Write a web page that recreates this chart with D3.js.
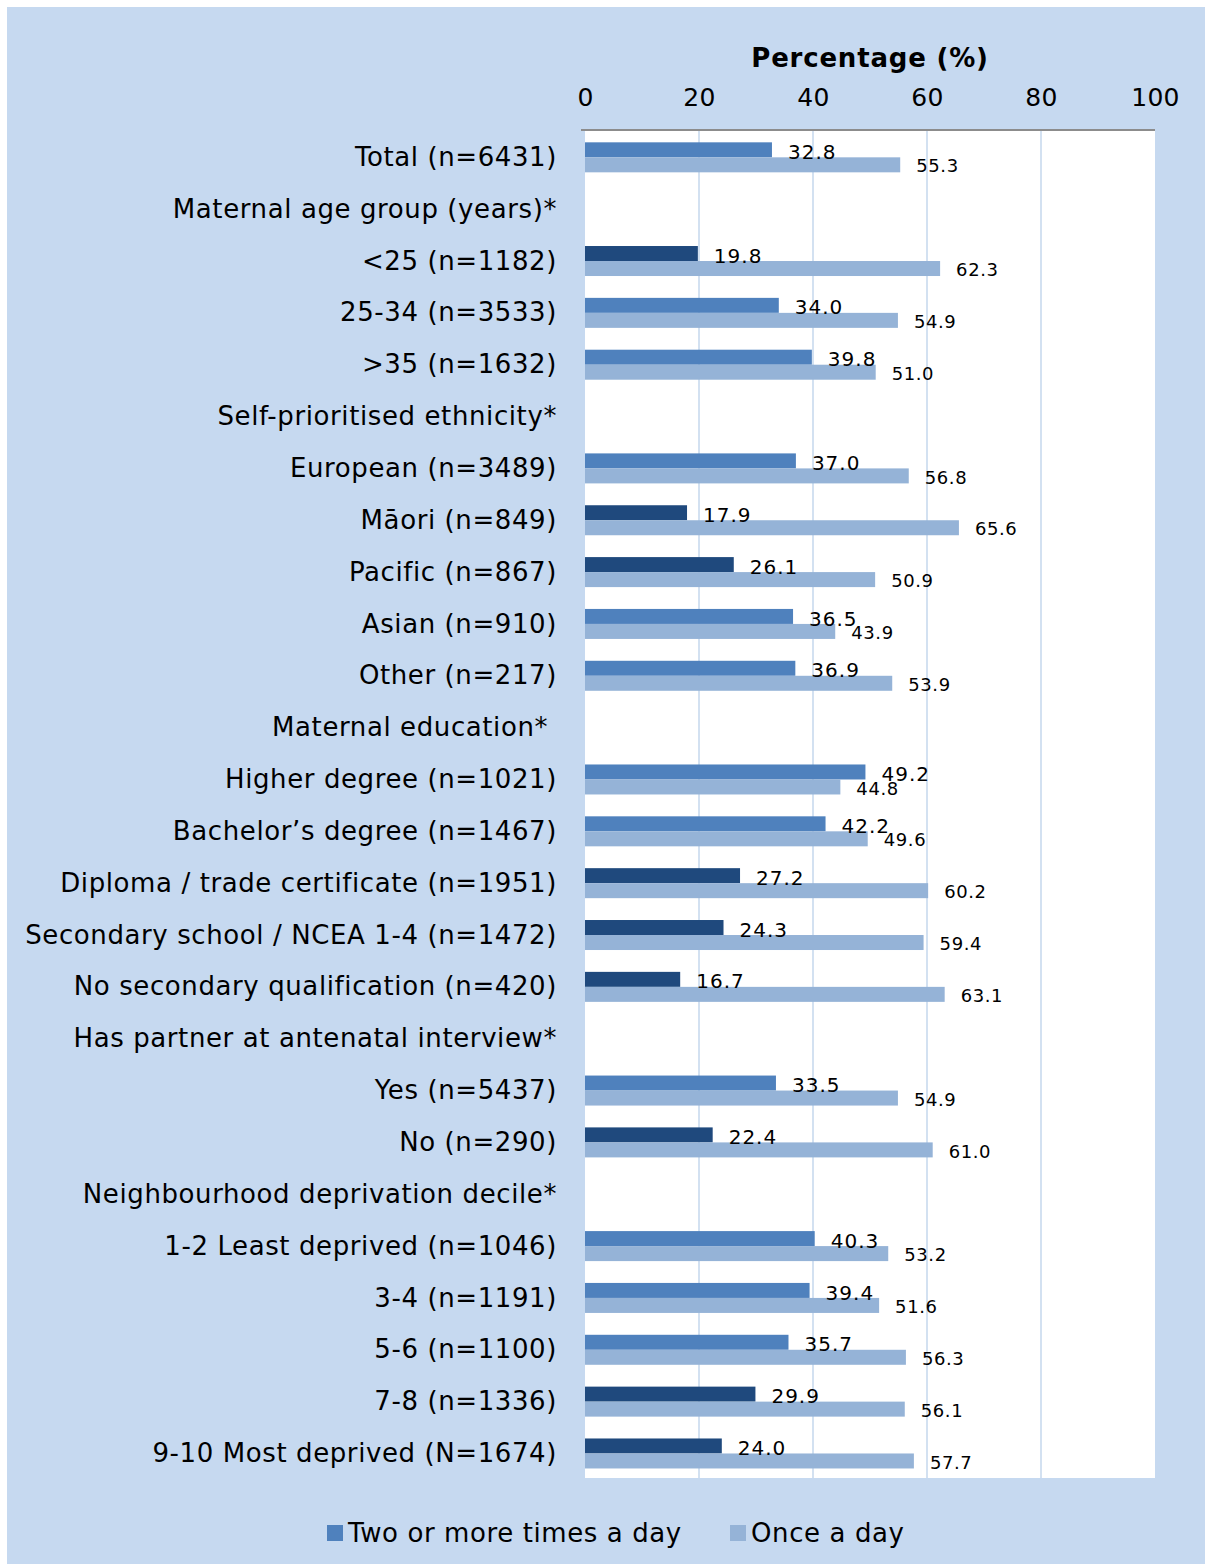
<!DOCTYPE html>
<html>
<head>
<meta charset="utf-8">
<script src="https://cdn.jsdelivr.net/npm/d3@7"></script>
<style>
    body { margin: 0; background: #ffffff; }
    svg { display: block; font-family: 'DejaVu Sans', Verdana, sans-serif; }
</style>
</head>
<body>
<section id="visualization-1"><svg></svg></section>
<script>
// row labels, top to bottom (headers have no values)
var categories = [
    'Total (n=6431)',
    'Maternal age group (years)*',
    '<25 (n=1182)',
    '25-34 (n=3533)',
    '>35 (n=1632)',
    'Self-prioritised ethnicity*',
    'European (n=3489)',
    'M\u0101ori (n=849)',
    'Pacific (n=867)',
    'Asian (n=910)',
    'Other (n=217)',
    'Maternal education*\u00a0',
    'Higher degree (n=1021)',
    'Bachelor\u2019s degree (n=1467)',
    'Diploma / trade certificate (n=1951)',
    'Secondary school / NCEA 1-4 (n=1472)',
    'No secondary qualification (n=420)',
    'Has partner at antenatal interview*',
    'Yes (n=5437)',
    'No (n=290)',
    'Neighbourhood deprivation decile*',
    '1-2 Least deprived (n=1046)',
    '3-4 (n=1191)',
    '5-6 (n=1100)',
    '7-8 (n=1336)',
    '9-10 Most deprived (N=1674)'
];

var twoOrMore = [32.8, null, 19.8, 34.0, 39.8, null, 37.0, 17.9, 26.1, 36.5, 36.9,
    null, 49.2, 42.2, 27.2, 24.3, 16.7, null, 33.5, 22.4, null, 40.3, 39.4, 35.7, 29.9, 24.0];

var onceADay = [55.3, null, 62.3, 54.9, 51.0, null, 56.8, 65.6, 50.9, 43.9, 53.9,
    null, 44.8, 49.6, 60.2, 59.4, 63.1, null, 54.9, 61.0, null, 53.2, 51.6, 56.3, 56.1, 57.7];

// rows where "two or more" is drawn in the darker shade
var darkRows = [0, 0, 1, 0, 0, 0, 0, 1, 1, 0, 0, 0, 0, 0, 1, 1, 1, 0, 0, 1, 0, 0, 0, 0, 1, 1];

var seriesNames = ['Two or more times a day', 'Once a day'];
var xTicks = [0, 20, 40, 60, 80, 100];

var colors = {bg: '#c6d9f0', mid: '#4f81bd', dark: '#1f497d', light: '#95b3d7', grid: '#d3e1f1'};

var rows = categories.map(function(c, i) {
    return {label: c, two: twoOrMore[i], once: onceADay[i], dark: darkRows[i] === 1};
});

var svg = d3.select('section#visualization-1').select('svg')
    .attr('width', 1205)
    .attr('height', 1564);

// panel background
svg.append('rect')
    .attr('x', 7).attr('y', 7)
    .attr('width', 1198).attr('height', 1557)
    .attr('fill', colors.bg);

var plot = {left: 585, right: 1155, top: 130, bottom: 1478};

var x = d3.scaleLinear()
    .domain([0, 100])
    .range([plot.left, plot.right]);

var y = d3.scaleBand()
    .domain(d3.range(rows.length))
    .range([plot.top, plot.bottom]);

var barH = 15;

// white plot area
svg.append('rect')
    .attr('x', plot.left).attr('y', plot.top)
    .attr('width', plot.right - plot.left).attr('height', plot.bottom - plot.top)
    .attr('fill', '#ffffff');

// vertical gridlines
svg.selectAll('.grid')
    .data(xTicks.slice(1, -1))
    .enter().append('line')
    .attr('class', 'grid')
    .attr('x1', function(d) { return x(d); })
    .attr('x2', function(d) { return x(d); })
    .attr('y1', plot.top)
    .attr('y2', plot.bottom)
    .attr('stroke', colors.grid)
    .attr('stroke-width', 2);

// top axis
var axisTop = d3.axisTop(x)
    .tickValues(xTicks)
    .tickSize(0)
    .tickPadding(0)
    .tickFormat(d3.format('d'));

var gAxis = svg.append('g')
    .attr('class', 'axisX')
    .attr('transform', 'translate(0,' + plot.top + ')')
    .call(axisTop);

gAxis.select('.domain').remove();
gAxis.selectAll('text')
    .attr('y', -24)
    .attr('fill', '#000')
    .style('font-size', '25px')
    .style('letter-spacing', '0.3px')
    .style('font-family', "'DejaVu Sans', Verdana, sans-serif");

svg.append('line')
    .attr('x1', plot.left - 4).attr('x2', plot.right)
    .attr('y1', plot.top).attr('y2', plot.top)
    .attr('stroke', '#8c8c8c')
    .attr('stroke-width', 2);

svg.append('text')
    .attr('x', x(50))
    .attr('y', 67)
    .attr('text-anchor', 'middle')
    .style('font-size', '26px')
    .style('font-weight', 'bold')
    .style('letter-spacing', '0.8px')
    .text('Percentage (%)');

// row labels
svg.selectAll('.rowLabel')
    .data(rows)
    .enter().append('text')
    .attr('class', 'rowLabel')
    .attr('x', 557)
    .attr('y', function(d, i) { return y(i) + y.bandwidth() / 2 + 10; })
    .attr('text-anchor', 'end')
    .style('font-size', '26px')
    .style('letter-spacing', '0.6px')
    .attr('fill', '#000')
    .text(function(d) { return d.label; });

var valued = rows.map(function(d, i) { d.i = i; return d; })
    .filter(function(d) { return d.two != null; });

var mid = function(d) { return y(d.i) + y.bandwidth() / 2; };

// bars: two or more times a day
svg.selectAll('.barTwo')
    .data(valued)
    .enter().append('rect')
    .attr('class', 'barTwo')
    .attr('x', x(0))
    .attr('y', function(d) { return mid(d) - 13.6; })
    .attr('width', function(d) { return x(d.two) - x(0); })
    .attr('height', barH)
    .attr('fill', function(d) { return d.dark ? colors.dark : colors.mid; });

// bars: once a day
svg.selectAll('.barOnce')
    .data(valued)
    .enter().append('rect')
    .attr('class', 'barOnce')
    .attr('x', x(0))
    .attr('y', function(d) { return mid(d) + 1.4; })
    .attr('width', function(d) { return x(d.once) - x(0); })
    .attr('height', barH)
    .attr('fill', colors.light);

// value labels
svg.selectAll('.lblTwo')
    .data(valued)
    .enter().append('text')
    .attr('class', 'lblTwo')
    .attr('x', function(d) { return x(d.two) + 16; })
    .attr('y', function(d) { return mid(d) + 3; })
    .style('font-size', '20px')
    .style('letter-spacing', '1px')
    .text(function(d) { return d.two.toFixed(1); });

svg.selectAll('.lblOnce')
    .data(valued)
    .enter().append('text')
    .attr('class', 'lblOnce')
    .attr('x', function(d) { return x(d.once) + 16; })
    .attr('y', function(d) { return mid(d) + 16.5; })
    .style('font-size', '18px')
    .style('letter-spacing', '0.6px')
    .text(function(d) { return d.once.toFixed(1); });

// legend
var legendX = [327, 730];
var legend = svg.selectAll('.legend')
    .data(seriesNames)
    .enter().append('g')
    .attr('class', 'legend')
    .attr('transform', function(d, i) { return 'translate(' + legendX[i] + ',1525)'; });

legend.append('rect')
    .attr('width', 16).attr('height', 16)
    .attr('fill', function(d, i) { return i === 0 ? colors.mid : colors.light; });

legend.append('text')
    .attr('x', 21)
    .attr('y', 17)
    .style('font-size', '26px')
    .style('letter-spacing', '0.6px')
    .text(function(d) { return d; });
</script>
</body>
</html>
